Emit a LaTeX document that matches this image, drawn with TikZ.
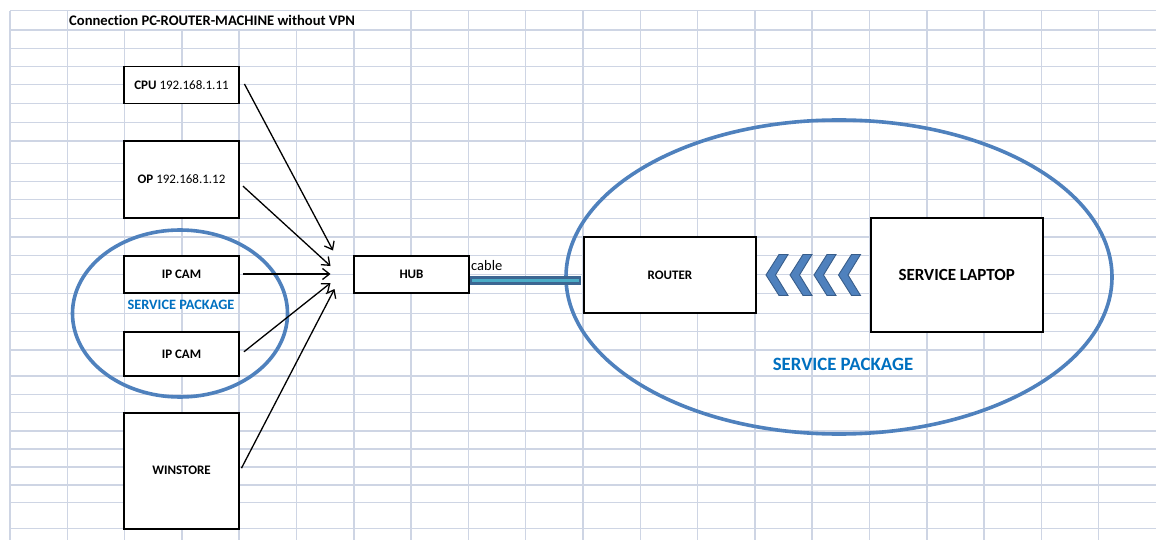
\documentclass[tikz,border=0pt]{standalone}
\usepackage{fontspec}
\setmainfont[Ligatures=NoCommon]{Carlito}
\usetikzlibrary{arrows.meta}

\definecolor{gridc}{RGB}{206,213,228}
\definecolor{ringc}{RGB}{79,129,189}
\definecolor{pkgtext}{RGB}{0,112,192}
\definecolor{chevfill}{RGB}{79,129,189}
\definecolor{chevedge}{RGB}{56,93,138}
\definecolor{cableout}{RGB}{60,102,146}
\definecolor{cablein}{RGB}{75,172,198}

\tikzset{
  gridline/.style={draw=gridc, line width=1.5},
  devbox/.style={draw=black, line width=1.9, fill=white, inner sep=0pt,
    minimum width=115, font=\fontsize{13}{15}\selectfont\bfseries},
  ring/.style={draw=ringc, line width=3.6},
  feed/.style={draw=black, line width=1.3,
    -{Straight Barb[length=7pt, width=11pt, line width=1.3pt]}},
  chevron/.style={fill=chevfill, draw=chevedge, line width=0.9, line join=miter},
  pkglabel/.style={text=pkgtext, font=\bfseries, inner sep=0pt}
}

\begin{document}
\begin{tikzpicture}[x=1pt, y=-1pt]
\useasboundingbox (0,0) rectangle (1156,540);
\fill[white] (0,0) rectangle (1156,540);

% ---- worksheet grid ----
\foreach \y in {10.7,30,48.3,66.7,84.3,103.3,122.3,141,163.3,181.7,199.3,218.3,
                237,255.7,274.3,293.3,313.3,331.7,350,376,394.3,412.7,431,449,
                467,485,502.7,528.7}
  \draw[gridline] (10,\y) -- (1156,\y);
\foreach \k in {0,1,7,8,...,19}
  \draw[gridline] ({10+57.3*\k},10.7) -- ({10+57.3*\k},540);
\foreach \k in {2,...,6}
  \draw[gridline] ({10+57.3*\k},30) -- ({10+57.3*\k},540);

% ---- title ----
\node[anchor=base west, inner sep=0pt, font=\fontsize{14.6}{16}\selectfont\bfseries]
  (title) at (69,26) {Connection PC-ROUTER-MACHINE without VPN};

% ---- service package rings ----
\draw[ring] (180,313.5) ellipse [x radius=107.5, y radius=83.5];
\draw[ring] (839,277) ellipse [x radius=273, y radius=157];

% ---- devices ----
\node[devbox, minimum height=37] (cpu) at (181.5,85)
  {CPU \mdseries 192.168.1.11};
\node[devbox, minimum height=77.3] (op) at (181.5,179.6)
  {OP \mdseries 192.168.1.12};
\node[devbox, minimum height=37.6] (cam1) at (181.5,274.5) {IP CAM};
\node[devbox, minimum height=44.3] (cam2) at (181.5,353.8) {IP CAM};
\node[devbox, minimum height=116] (winstore) at (181.5,470.7) {WINSTORE};
\node[devbox, minimum height=37.6] (hub) at (411.5,274.5) {HUB};
\node[devbox, minimum width=172, minimum height=76.3] (router) at (670,275) {ROUTER};
\node[devbox, minimum width=172, minimum height=113.4,
      font=\fontsize{17}{19}\selectfont\bfseries] (laptop) at (956.7,275) {SERVICE LAPTOP};

% ---- package labels ----
\node[pkglabel, font=\fontsize{14.3}{16}\selectfont\bfseries] (pkgsmall) at (181,304.5) {SERVICE PACKAGE};
\node[pkglabel, font=\fontsize{18.8}{20}\selectfont\bfseries] (pkgbig) at (843,364) {SERVICE PACKAGE};

% ---- links into the hub ----
\coordinate (tipcpu)  at (333,250.5);
\coordinate (tipop)   at (330.5,266);
\coordinate (tipcam1) at (330.5,274);
\coordinate (tipcam2) at (330.5,283);
\coordinate (tipwin)  at (334.5,289);
\draw[feed] ([shift={(4.5,-1)}]cpu.east) -- (tipcpu);
\draw[feed] ([shift={(3,6.5)}]op.east) -- (tipop);
\draw[feed] ([shift={(3,-0.5)}]cam1.east) -- (tipcam1);
\draw[feed] ([shift={(4,-2)}]cam2.east) -- (tipcam2);
\draw[feed] ([shift={(1.5,-2.5)}]winstore.east) -- (tipwin);

% ---- cable from hub to router ----
\coordinate (cabA) at (hub.east |- 0,280.7);
\coordinate (cabB) at (router.west |- 0,280.7);
\draw[cableout, line width=9.5] (cabA) -- ([xshift=-2.5]cabB);
\draw[cablein, line width=3.5] ([xshift=2]cabA) -- ([xshift=-4.5]cabB);
\node[anchor=base west, inner sep=0pt, font=\fontsize{14.5}{16}\selectfont]
  (cablelbl) at (471,270) {cable};

% ---- chevrons from laptop toward router ----
\foreach \t in {766,790,814,838.5}
  \draw[chevron] (\t,275) -- ++(13,-20.5) -- ++(9,0) -- ++(-12.5,20.5)
                 -- ++(12.5,20.5) -- ++(-9,0) -- cycle;
\end{tikzpicture}
\end{document}
